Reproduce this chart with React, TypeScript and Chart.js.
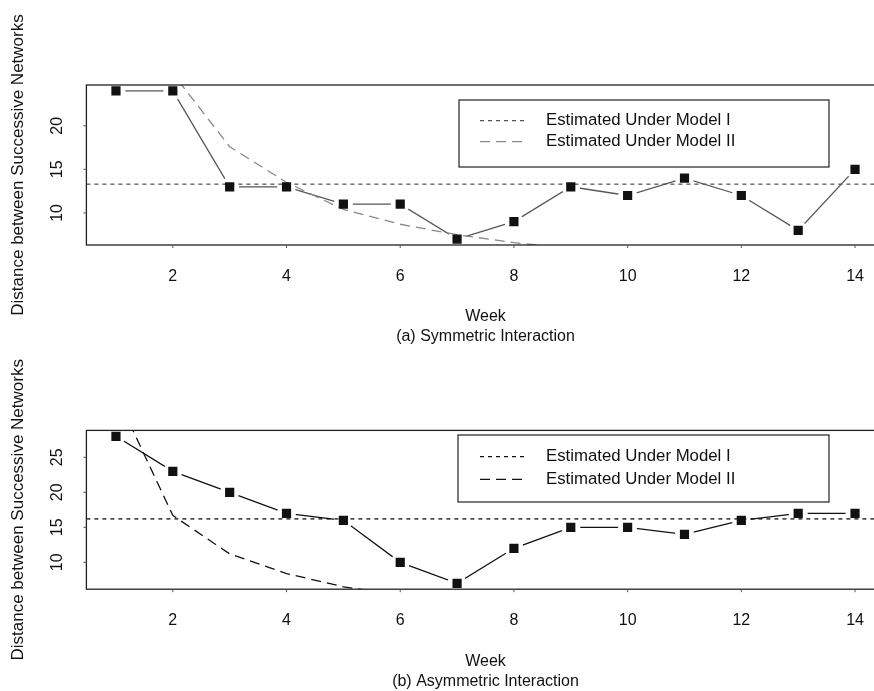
import React, { useEffect, useRef } from "react";
import { Chart, registerables } from "chart.js";

Chart.register(...registerables);

// ---------- data ----------
const weeks = [1, 2, 3, 4, 5, 6, 7, 8, 9, 10, 11, 12, 13, 14];
const xTicks = [2, 4, 6, 8, 10, 12, 14];

const symObserved = [24, 24, 13, 13, 11, 11, 7, 9, 13, 12, 14, 12, 8, 15];
const symModelI = 13.3;
const symModelIIWeeks = [1, 2, 3, 4, 5, 6, 7, 8, 9];
const symModelII = [40, 26, 17.6, 13.5, 10.4, 8.7, 7.5, 6.6, 5.9];
const symYTicks = [10, 15, 20];

const asymObserved = [28, 23, 20, 17, 16, 10, 7, 12, 15, 15, 14, 16, 17, 17];
const asymModelI = 16.2;
const asymModelIIWeeks = [1, 2, 3, 4, 5, 6];
const asymModelII = [34, 16.7, 11.2, 8.4, 6.5, 5.3];
const asymYTicks = [10, 15, 20, 25];

const legendLabels = ["Estimated Under Model I", "Estimated Under Model II"];
const yTitle = "Distance between Successive Networks";
const xTitle = "Week";
const captionA = "(a) Symmetric Interaction";
const captionB = "(b) Asymmetric Interaction";

const FONT = "'Liberation Sans', Arial, Helvetica, sans-serif";

function rangeOf(vals: number[]) {
  const lo = Math.min(...vals);
  const hi = Math.max(...vals);
  const d = (hi - lo) * 0.04;
  return [lo - d, hi + d];
}

type PanelProps = {
  observed: number[];
  modelI: number;
  modelIIWeeks: number[];
  modelII: number[];
  yTicks: number[];
  caption: string;
  height: number;
  padTop: number;
  padBottom: number;
  legendBox: [number, number, number, number];
  legendRows: [number, number];
  lineColor: string;
  m1Color: string;
  m2Color: string;
  textColor: string;
};

function Panel(p: PanelProps) {
  const ref = useRef<HTMLCanvasElement | null>(null);
  useEffect(() => {
    const canvas = ref.current;
    if (!canvas) return;
    const [xMin, xMax] = rangeOf(weeks);
    const [yMin, yMax] = rangeOf(p.observed);
    const obsPts = weeks.map((w, i) => ({ x: w, y: p.observed[i] }));

    const decor = {
      id: "decor",
      afterDraw(chart: any) {
        const ctx = chart.ctx as CanvasRenderingContext2D;
        const a = chart.chartArea;
        const xs = chart.scales.x;
        const ys = chart.scales.y;
        ctx.save();
        // box
        ctx.strokeStyle = "#222";
        ctx.lineWidth = 1.3;
        ctx.setLineDash([]);
        ctx.strokeRect(a.left, a.top, a.right - a.left, a.bottom - a.top);
        // ticks
        ctx.lineWidth = 1;
        ctx.strokeStyle = "#555";
        ctx.beginPath();
        xTicks.forEach((t) => {
          const x = xs.getPixelForValue(t);
          ctx.moveTo(x, a.bottom);
          ctx.lineTo(x, a.bottom + 3);
        });
        p.yTicks.forEach((t) => {
          const y = ys.getPixelForValue(t);
          ctx.moveTo(a.left, y);
          ctx.lineTo(a.left - 3, y);
        });
        ctx.stroke();
        // tick labels
        ctx.fillStyle = p.textColor;
        ctx.font = `16px ${FONT}`;
        ctx.textAlign = "center";
        ctx.textBaseline = "middle";
        xTicks.forEach((t) => {
          ctx.fillText(String(t), xs.getPixelForValue(t), a.bottom + 31.5);
        });
        p.yTicks.forEach((t) => {
          ctx.save();
          ctx.translate(57.5, ys.getPixelForValue(t));
          ctx.rotate(-Math.PI / 2);
          ctx.fillText(String(t), 0, 0);
          ctx.restore();
        });
        // titles
        const cx = (a.left + a.right) / 2;
        ctx.font = `16px ${FONT}`;
        ctx.fillText(xTitle, cx, 316.7);
        ctx.fillText(p.caption, cx, 336.7);
        ctx.save();
        ctx.font = `17px ${FONT}`;
        ctx.translate(18.5, (a.top + a.bottom) / 2);
        ctx.rotate(-Math.PI / 2);
        ctx.fillText(yTitle, 0, 0);
        ctx.restore();
        // legend
        const [lx1, ly1, lx2, ly2] = p.legendBox;
        ctx.fillStyle = "#fff";
        ctx.fillRect(lx1, ly1, lx2 - lx1, ly2 - ly1);
        ctx.strokeStyle = "#222";
        ctx.lineWidth = 1.2;
        ctx.strokeRect(lx1, ly1, lx2 - lx1, ly2 - ly1);
        const dashes = [[4, 4], [10, 6]];
        const cols = [p.m1Color, p.m2Color];
        legendLabels.forEach((lab, i) => {
          const y = p.legendRows[i];
          ctx.strokeStyle = cols[i];
          ctx.lineWidth = 1.3;
          ctx.setLineDash(dashes[i]);
          ctx.beginPath();
          ctx.moveTo(480, y);
          ctx.lineTo(524, y);
          ctx.stroke();
          ctx.setLineDash([]);
          ctx.fillStyle = p.textColor;
          ctx.font = `16.8px ${FONT}`;
          ctx.textAlign = "left";
          ctx.fillText(lab, 546, y);
        });
        ctx.restore();
      },
    };

    const chart = new Chart(canvas, {
      type: "line",
      data: {
        datasets: [
          {
            label: "observed",
            data: obsPts,
            borderColor: p.lineColor,
            borderWidth: 1.3,
            pointRadius: 0,
            tension: 0,
            order: 5,
          },
          {
            label: "halo",
            data: obsPts,
            showLine: false,
            pointStyle: "circle",
            pointRadius: 9.5,
            pointBackgroundColor: "#ffffff",
            pointBorderWidth: 0,
            order: 4,
          },
          {
            label: legendLabels[0],
            data: [
              { x: xMin, y: p.modelI },
              { x: xMax, y: p.modelI },
            ],
            borderColor: p.m1Color,
            borderWidth: 1.3,
            borderDash: [4, 4],
            pointRadius: 0,
            order: 3,
          },
          {
            label: legendLabels[1],
            data: p.modelIIWeeks.map((w, i) => ({ x: w, y: p.modelII[i] })),
            borderColor: p.m2Color,
            borderWidth: 1.3,
            borderDash: [10, 6],
            pointRadius: 0,
            tension: 0,
            order: 2,
          },
          {
            label: "markers",
            data: obsPts,
            showLine: false,
            pointStyle: "rect",
            pointRadius: 6.5,
            pointBackgroundColor: "#111",
            pointBorderWidth: 0,
            order: 1,
          },
        ],
      },
      options: {
        responsive: false,
        animation: false,
        events: [],
        layout: {
          padding: { left: 86.4, right: 15.4, top: p.padTop, bottom: p.padBottom },
        },
        plugins: { legend: { display: false }, tooltip: { enabled: false } },
        scales: {
          x: { type: "linear", min: xMin, max: xMax, display: false },
          y: { type: "linear", min: yMin, max: yMax, display: false },
        },
      },
      plugins: [decor],
    });
    return () => chart.destroy();
  }, []);
  return (
    <canvas
      ref={ref}
      width={900}
      height={p.height}
      style={{ display: "block", width: 900, height: p.height }}
    />
  );
}

export default function App() {
  return (
    <div
      style={{
        position: "absolute",
        left: 0,
        top: 0,
        width: 874,
        height: 691,
        overflow: "hidden",
        background: "#fff",
      }}
    >
      <Panel
        observed={symObserved}
        modelI={symModelI}
        modelIIWeeks={symModelIIWeeks}
        modelII={symModelII}
        yTicks={symYTicks}
        caption={captionA}
        height={345}
        padTop={85}
        padBottom={100}
        legendBox={[459, 100, 829, 167]}
        legendRows={[120.7, 141.7]}
        lineColor="#555"
        m1Color="#555"
        m2Color="#888"
        textColor="#111"
      />
      <Panel
        observed={asymObserved}
        modelI={asymModelI}
        modelIIWeeks={asymModelIIWeeks}
        modelII={asymModelII}
        yTicks={asymYTicks}
        caption={captionB}
        height={346}
        padTop={85.4}
        padBottom={101.8}
        legendBox={[458, 90, 829, 157]}
        legendRows={[111.7, 134.3]}
        lineColor="#111"
        m1Color="#111"
        m2Color="#111"
        textColor="#111"
      />
    </div>
  );
}
